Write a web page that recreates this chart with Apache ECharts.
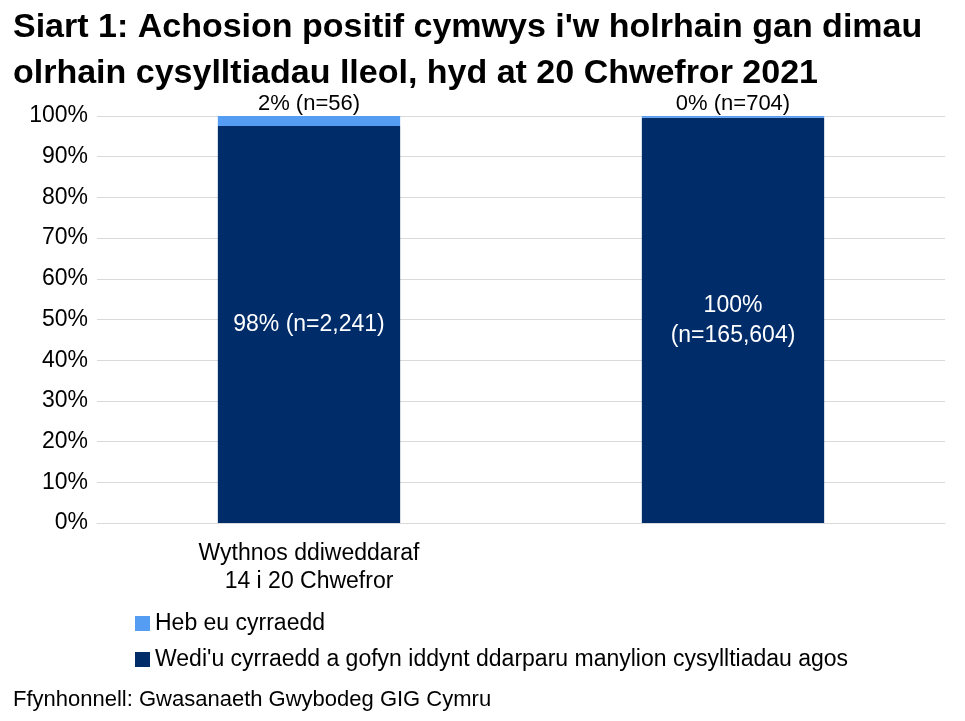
<!DOCTYPE html>
<html><head><meta charset="utf-8">
<script src="https://cdn.jsdelivr.net/npm/echarts@6/dist/echarts.min.js"></script>
<style>body{margin:0}#c{width:965px;height:721px}</style></head>
<body><div id="c"></div>
<script>
// data
const categories = ['Wythnos ddiweddaraf\n14 i 20 Chwefror', 'Cyfanswm cronnus\n21 Mehefin 2020 i 20 Chwefror 2021'];
const reachedPct = [97.56, 99.58];
const notReachedPct = [2.44, 0.42];
const reachedLabels = ['98% (n=2,241)', '100%\n(n=165,604)'];
const notReachedLabels = ['2% (n=56)', '0% (n=704)'];
const seriesNames = ['Heb eu cyrraedd', "Wedi'u cyrraedd a gofyn iddynt ddarparu manylion cysylltiadau agos"];

const chart = echarts.init(document.getElementById('c'));
const font = 'Liberation Sans, Arial, sans-serif';
chart.setOption({
  textStyle: {fontFamily: font},
  title: [{
    text: "Siart 1: Achosion positif cymwys i'w holrhain gan dimau\nolrhain cysylltiadau lleol, hyd at 20 Chwefror 2021",
    left: 8, top: 0,
    textStyle: {fontSize: 34, fontWeight: 'bold', color: '#000', lineHeight: 46, fontFamily: font}
  }, {
    text: 'Ffynhonnell: Gwasanaeth Gwybodeg GIG Cymru',
    left: 8, top: 684,
    textStyle: {fontSize: 22, fontWeight: 'normal', color: '#000', fontFamily: font}
  }],
  grid: {left: 97, right: 20, top: 116, height: 407},
  legend: {
    orient: 'vertical', left: 130, top: 607, itemGap: 13,
    itemWidth: 15, itemHeight: 15, icon: 'rect',
    textStyle: {fontSize: 23, color: '#000'},
    data: [seriesNames[0], seriesNames[1]]
  },
  xAxis: {
    type: 'category', data: categories,
    axisLine: {lineStyle: {color: '#d9d9d9'}}, axisTick: {show: false},
    axisLabel: {fontSize: 23, color: '#000', margin: 17, lineHeight: 28}
  },
  yAxis: {
    type: 'value', min: 0, max: 100, interval: 10,
    axisLabel: {formatter: '{value}%', fontSize: 23, color: '#000', margin: 9},
    splitLine: {lineStyle: {color: '#d9d9d9'}}
  },
  series: [{
    name: seriesNames[1], type: 'bar', stack: 's', barWidth: '43%',
    itemStyle: {color: '#002d6a'},
    data: reachedPct,
    label: {show: true, position: 'inside', color: '#fff', fontSize: 23, lineHeight: 30,
      formatter: p => reachedLabels[p.dataIndex]}
  }, {
    name: seriesNames[0], type: 'bar', stack: 's',
    itemStyle: {color: '#559df2'},
    data: notReachedPct,
    label: {show: true, position: 'top', distance: 1, color: '#000', fontSize: 22,
      formatter: p => notReachedLabels[p.dataIndex]}
  }]
});
</script></body></html>
